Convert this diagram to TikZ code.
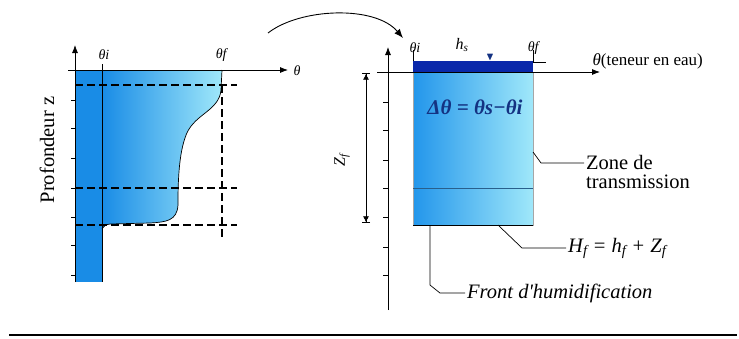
\documentclass[tikz,border=0pt]{standalone}
\usepackage{amssymb}
\usepackage{fontspec}
\setmainfont{Liberation Serif}
\usetikzlibrary{positioning,calc,arrows.meta}
\definecolor{SoilBlue}{RGB}{25,140,230}
\definecolor{WetCyan}{RGB}{160,232,250}
\definecolor{BoxBlue}{RGB}{35,150,235}
\definecolor{PondBlue}{RGB}{10,40,170}
\definecolor{DeltaBlue}{RGB}{20,50,130}
\definecolor{LayerLine}{RGB}{40,95,140}

\begin{document}
\begin{tikzpicture}[x=1pt,y=-1pt,font=\fontsize{20.5}{19}\selectfont,
  axis/.style={-{Latex[length=8pt,width=6pt]},line width=0.8pt},
  guide/.style={dash pattern=on 8pt off 4pt,line width=1.3pt},
  lead/.style={line width=0.7pt},
  tick/.style={line width=0.6pt},
  small/.style={font=\fontsize{14}{16}\selectfont}]
\useasboundingbox (0,0) rectangle (739,338);

% left panel: moisture profile
\fill[SoilBlue] (75,70) rectangle (102,282);
\shade[left color=SoilBlue,right color=WetCyan] (102,70) -- (222,70) -- (221,90) .. controls (219,112) and (192,114) .. (185,138) .. controls (178,158) and (178,190) .. (178,205) .. controls (177,221) and (166,222) .. (150,223) -- (110,224) .. controls (105,225) .. (102,229) -- cycle;
\draw[line width=0.7pt] (222,70) -- (221,90) .. controls (219,112) and (192,114) .. (185,138) .. controls (178,158) and (178,190) .. (178,205) .. controls (177,221) and (166,222) .. (150,223) -- (110,224) .. controls (105,225) .. (102,229);
\draw[line width=0.7pt] (102,64) -- (102,282);
\draw[axis] (75,282) -- (75,45);
\draw[axis] (68,70) -- (288,70);
\foreach \y in {100,128,158,188,217,245,275} \draw[tick] (71,\y) -- (75,\y);
\foreach \y in {85,188,225} \draw[guide] (75,\y) -- (237,\y);
\draw[guide] (222,85) -- (222,238);
\node[small] (thetaaxis) at (297,71) {\textit{θ}};
\node[small] (thi1) at (104,55) {\textit{θi}};
\node[small] (thf1) at (222,55) {\textit{θf}};
\node[rotate=90] (depth) at (47,150) {Profondeur z};

% arrow between panels
\coordinate (arrstart) at (268,33);
\coordinate (arrend) at (403,38);
\draw[-{Latex[length=9pt,width=7pt]},line width=0.9pt] (arrstart) .. controls (300,8) and (375,5) .. (arrend);

% right panel: wetting front model
\node[draw=gray!70,line width=0.4pt,left color=BoxBlue,right color=WetCyan,minimum width=120pt,minimum height=153pt,inner sep=0pt,anchor=north west] (box) at (413,72) {};
\fill[PondBlue] (413,61) rectangle (533,72);
\draw[line width=1pt] (box.south west) -- (box.south east);
\draw[line width=0.4pt,LayerLine] (413,188) -- (533,188);
\draw[tick] (413,50) -- (413,61);
\draw[tick] (533,50) -- (533,62) -- (546,62);
\draw[axis] (388,310) -- (388,47);
\draw[axis] (377,72) -- (600,72);
\foreach \y in {102,130,160,188,217,247,275} \draw[tick] (383,\y) -- (388,\y);
\coordinate (ztop) at (366,73);
\coordinate (zbot) at (366,223);
\draw[{Bar[width=8pt]Latex[length=6pt,width=6pt]}-{Latex[length=6pt,width=6pt]Bar[width=8pt]},line width=0.7pt] (ztop) -- (zbot);
\node[rotate=90,font=\fontsize{16}{18}\selectfont] (zf) at (342,160) {\textit{Z\textsubscript{f}}};
\node[small] (thi2) at (415,48) {\textit{θi}};
\node[font=\fontsize{16}{18}\selectfont] (hs) at (462,45) {\textit{h\textsubscript{s}}};
\node[small] (thf2) at (534,48) {\textit{θf}};
\node[inner sep=0pt,text=DeltaBlue] (pond) at (490,57) {\fontsize{11}{11}\selectfont$\blacktriangledown$};
\node[anchor=west,font=\fontsize{17}{19}\selectfont] (thetalabel) at (589,61) {\textit{θ}(teneur en eau)};
\node[text=DeltaBlue,font=\fontsize{21}{21}\selectfont] (delta) at (475,107) {\textbf{\textit{Δθ = θs−θi}}};
\node[anchor=west,align=left,inner sep=0pt] (zone) at (586,172) {Zone de\\transmission};
\node[anchor=west,inner sep=2pt] (hf) at (566,248) {\textit{H\textsubscript{f} = h\textsubscript{f} + Z\textsubscript{f}}};
\node[anchor=west,inner sep=2pt] (front) at (465,293) {\textit{Front d\textquotesingle humidification}};
\coordinate (zoneleg) at (533,152);
\coordinate (hfleg) at (498,225);
\coordinate (frontleg) at (430,225);
\draw[lead] (zoneleg) -- (541,163) -- (584,163);
\draw[lead] (hfleg) -- (522,248) -- (hf.west);
\draw[lead] (frontleg) -- (430,285) -- (440,293) -- (front.west);

% rule under the figure
\draw[line width=2pt] (9,335) -- (737,335);
\end{tikzpicture}
\end{document}
